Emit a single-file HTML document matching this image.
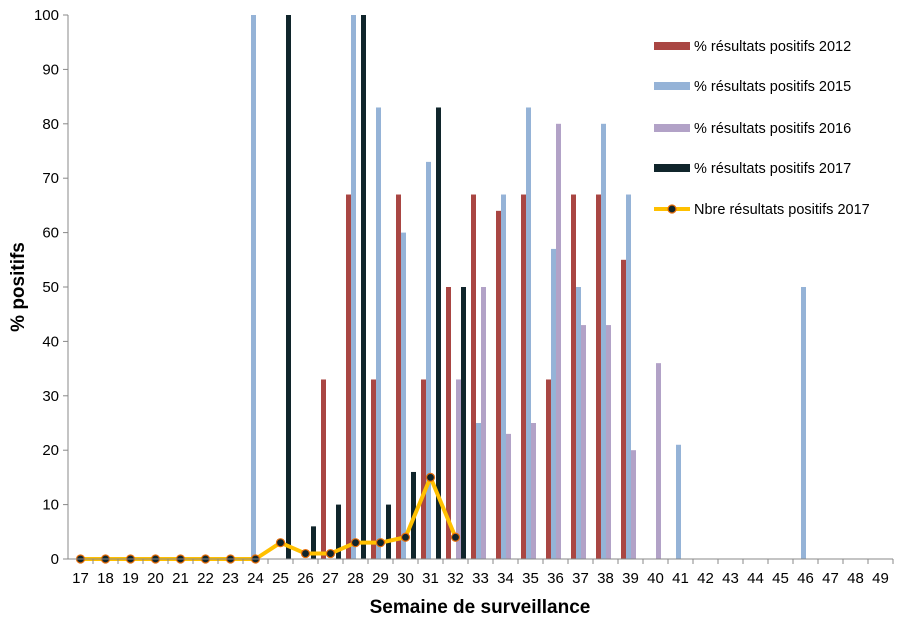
<!DOCTYPE html>
<html><head><meta charset="utf-8"><style>
html,body{margin:0;padding:0;background:#fff;}
svg{display:block;font-family:"Liberation Sans",Arial,sans-serif;}
</style></head><body>
<svg id="chart" width="900" height="619" xmlns="http://www.w3.org/2000/svg">
<g id="grid"></g><g id="bars"></g><g id="line"></g><g id="axes"></g><g id="legend"></g>
</svg>
<script>
const weeks=[17,18,19,20,21,22,23,24,25,26,27,28,29,30,31,32,33,34,35,36,37,38,39,40,41,42,43,44,45,46,47,48,49];
const s2012={27:33,28:67,29:33,30:67,31:33,32:50,33:67,34:64,35:67,36:33,37:67,38:67,39:55};
const s2015={24:100,28:100,29:83,30:60,31:73,33:25,34:67,35:83,36:57,37:50,38:80,39:67,41:21,46:50};
const s2016={32:33,33:50,34:23,35:25,36:80,37:43,38:43,39:20,40:36};
const s2017={25:100,26:6,27:10,28:100,29:10,30:16,31:83,32:50};
const lineWeeks=[17,18,19,20,21,22,23,24,25,26,27,28,29,30,31,32];
const lineVals=[0,0,0,0,0,0,0,0,3,1,1,3,3,4,15,4];
const yTicks=[0,10,20,30,40,50,60,70,80,90,100];
const seriesNames=["% résultats positifs 2012","% résultats positifs 2015","% résultats positifs 2016","% résultats positifs 2017"];
const lineName="Nbre résultats positifs 2017";

const NS="http://www.w3.org/2000/svg";
const X0=68,X1=893,Y0=559,Y1=15;
const band=(X1-X0)/weeks.length;
const xc=w=>X0+(weeks.indexOf(w)+0.5)*band;
const y=v=>Y0-(v/100)*(Y0-Y1);
function mk(t,a,p){const e=document.createElementNS(NS,t);for(const k in a)e.setAttribute(k,a[k]);p.appendChild(e);return e;}
const colors=["#A94643","#95B3D7","#B2A2C7","#10252B"];
const series=[s2012,s2015,s2016,s2017];
const offs=[-9.5,-4.5,0.5,5.5];
const gB=document.getElementById('bars');
series.forEach((s,i)=>{
  for(const k in s){const w=+k;const v=s[k];
    const r=mk('rect',{x:xc(w)+offs[i],y:y(v),width:5,height:Y0-y(v),fill:colors[i]},gB);
    
    
  }
});
const gA=document.getElementById('axes');
const ax=mk('line',{x1:X0,y1:Y1,x2:X0,y2:Y0,stroke:'#888','stroke-width':1},gA);

const bx=mk('line',{x1:X0,y1:Y0,x2:X1,y2:Y0,stroke:'#888','stroke-width':1},gA);

yTicks.forEach(t=>{
  mk('line',{x1:X0-5,y1:y(t),x2:X0,y2:y(t),stroke:'#888'},gA);
  const tx=mk('text',{x:X0-9,y:y(t)+5,'text-anchor':'end','font-size':15,fill:'#000'},gA);
  tx.textContent=t;
  
});
weeks.forEach((w,i)=>{
  const xx=X0+(i+1)*band;
  mk('line',{x1:xx,y1:Y0,x2:xx,y2:Y0+5,stroke:'#888'},gA);
  const tx=mk('text',{x:xc(w),y:Y0+24,'text-anchor':'middle','font-size':15,fill:'#000'},gA);
  tx.textContent=w;
  
});
const xt=mk('text',{x:480,y:613,'text-anchor':'middle','font-size':19,'font-weight':'bold'},gA);
xt.textContent='Semaine de surveillance';

const yt=mk('text',{x:0,y:0,'text-anchor':'middle','font-size':19,'font-weight':'bold',transform:'translate(24,287) rotate(-90)'},gA);
yt.textContent='% positifs';


const gL=document.getElementById('line');
const pts=lineWeeks.map((w,i)=>xc(w)+','+y(lineVals[i])).join(' ');
const pl=mk('polyline',{points:pts,fill:'none',stroke:'#FFC000','stroke-width':4,'stroke-linejoin':'round'},gL);

lineWeeks.forEach((w,i)=>{
  const c=mk('circle',{cx:xc(w),cy:y(lineVals[i]),r:4,fill:'#10252B',stroke:'#E46C0A','stroke-width':1.2},gL);
  
});

const gLeg=document.getElementById('legend');
const ly=[46,86,128,168,209];
seriesNames.forEach((n,i)=>{
  const g=mk('g',{},gLeg);
  
  mk('rect',{x:654,y:ly[i]-4,width:36,height:8,fill:colors[i]},g);
  const t=mk('text',{x:694,y:ly[i]+5,'font-size':14.5},g);t.textContent=n;
});
const g5=mk('g',{},gLeg);

mk('line',{x1:654,y1:ly[4],x2:690,y2:ly[4],stroke:'#FFC000','stroke-width':4},g5);
mk('circle',{cx:672,cy:ly[4],r:4,fill:'#10252B',stroke:'#E46C0A','stroke-width':1.2},g5);
const t5=mk('text',{x:694,y:ly[4]+5,'font-size':14.5},g5);t5.textContent=lineName;
</script>
</body></html>
